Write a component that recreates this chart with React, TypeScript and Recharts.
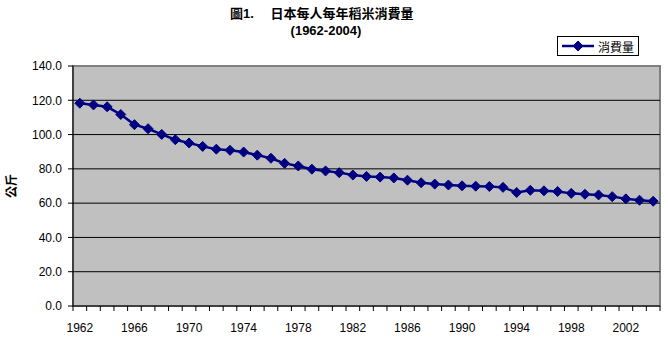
import {
  LineChart,
  Line,
  XAxis,
  YAxis,
  ReferenceArea,
  ReferenceLine,
} from 'recharts'

const years = [
  1962, 1963, 1964, 1965, 1966, 1967, 1968, 1969, 1970, 1971, 1972, 1973, 1974, 1975,
  1976, 1977, 1978, 1979, 1980, 1981, 1982, 1983, 1984, 1985, 1986, 1987, 1988, 1989,
  1990, 1991, 1992, 1993, 1994, 1995, 1996, 1997, 1998, 1999, 2000, 2001, 2002, 2003,
  2004,
]

// 公斤 per person per year
const consumption = [
  118.3, 117.3, 116.2, 111.7, 105.8, 103.4, 100.1, 97.0, 95.1, 93.1, 91.5, 90.8, 89.8,
  88.0, 86.2, 83.2, 81.7, 79.8, 78.8, 77.8, 76.4, 75.6, 75.2, 74.7, 73.4, 71.9, 71.1,
  70.6, 70.1, 69.9, 69.7, 69.2, 66.2, 67.5, 67.2, 66.8, 65.7, 65.2, 64.8, 63.8, 62.5,
  61.7, 61.1,
]

const yTicks = [0, 20, 40, 60, 80, 100, 120, 140]
const gridValues = [20, 40, 60, 80, 100, 120]
const labelYears = [1962, 1966, 1970, 1974, 1978, 1982, 1986, 1990, 1994, 1998, 2002]

const data = years.map((year, i) => ({ year, value: consumption[i] }))
// tick marks sit between categories, labels sit on the category
const boundaries = [...years.map((y) => y - 0.5), years[years.length - 1] + 0.5]
const xTicks = [...boundaries, ...labelYears].sort((a, b) => a - b)

const NAVY = '#000080'
const FONT = '"Liberation Sans", Arial, "Noto Sans CJK TC", sans-serif'

function Diamond({ cx, cy, r = 5 }: { cx: number; cy: number; r?: number }) {
  return (
    <polygon
      points={`${cx},${cy - r} ${cx + r},${cy} ${cx},${cy + r} ${cx - r},${cy}`}
      fill={NAVY}
      stroke={NAVY}
    />
  )
}

function XTick(props: any) {
  const { x, y, payload } = props
  const v = payload.value
  if (Number.isInteger(v)) {
    return (
      <text x={x} y={y + 26} textAnchor="middle" fontSize={12} fontFamily={FONT} fill="#000">
        {v}
      </text>
    )
  }
  return <line x1={x} y1={y} x2={x} y2={y + 5} stroke="#000" />
}

export default function App() {
  return (
    <div
      style={{
        position: 'absolute',
        left: 0,
        top: 0,
        width: 668,
        height: 338,
        background: '#fff',
        fontFamily: FONT,
      }}
    >
      <div
        style={{
          position: 'absolute',
          left: 230,
          top: 6,
          fontSize: 13,
          lineHeight: '16px',
          fontWeight: 'bold',
          whiteSpace: 'pre',
        }}
      >
        圖1.　 日本每人每年稻米消費量
      </div>
      <div
        style={{
          position: 'absolute',
          left: 0,
          width: 652,
          top: 23,
          fontSize: 13,
          lineHeight: '16px',
          fontWeight: 'bold',
          textAlign: 'center',
        }}
      >
        (1962-2004)
      </div>
      <div
        style={{
          position: 'absolute',
          left: 0,
          top: 178,
          fontSize: 12,
          lineHeight: '16px',
          fontWeight: 'bold',
          transform: 'rotate(-90deg)',
          transformOrigin: 'center',
        }}
      >
        公斤
      </div>
      <div
        style={{
          position: 'absolute',
          left: 557,
          top: 36,
          width: 80,
          height: 18,
          border: '1px solid #000',
          background: '#fff',
          display: 'flex',
          alignItems: 'center',
          fontSize: 12,
          zIndex: 2,
        }}
      >
        <svg width={40} height={18}>
          <line x1={4} y1={9} x2={36} y2={9} stroke={NAVY} strokeWidth={2.5} />
          <Diamond cx={20} cy={9} r={5} />
        </svg>
        <span>消費量</span>
      </div>
      <LineChart
        width={668}
        height={338}
        data={data}
        margin={{ top: 66, right: 8, left: 13, bottom: 6 }}
      >
        <ReferenceArea
          x1={1961.5}
          x2={2004.5}
          y1={0}
          y2={140}
          fill="#c0c0c0"
          fillOpacity={1}
          stroke="#808080"
          strokeWidth={2}
        />
        {gridValues.map((g) => (
          <ReferenceLine key={g} y={g} stroke="#000" strokeWidth={1} />
        ))}
        <XAxis
          dataKey="year"
          type="number"
          domain={[1961.5, 2004.5]}
          ticks={xTicks}
          interval={0}
          tick={<XTick />}
          tickLine={false}
          tickSize={0}
          tickMargin={0}
          axisLine={{ stroke: '#000' }}
          height={26}
        />
        <YAxis
          domain={[0, 140]}
          ticks={yTicks}
          interval={0}
          width={60}
          tickFormatter={(v) => Number(v).toFixed(1)}
          tick={{ fontSize: 12, fill: '#000', fontFamily: FONT }}
          tickSize={5}
          tickMargin={6}
          tickLine={{ stroke: '#000' }}
          axisLine={{ stroke: '#000' }}
        />
        <Line
          dataKey="value"
          stroke={NAVY}
          strokeWidth={2.5}
          isAnimationActive={false}
          dot={(p: any) => <Diamond key={p.index} cx={p.cx} cy={p.cy} />}
          activeDot={false}
        />
      </LineChart>
    </div>
  )
}
